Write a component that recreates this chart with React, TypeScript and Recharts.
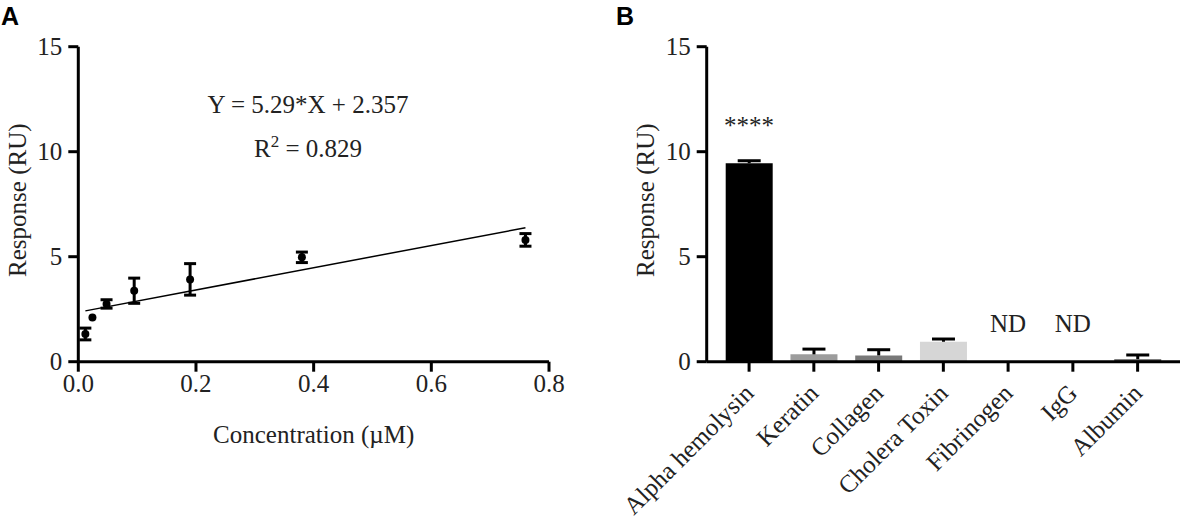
/**
 * Two-panel figure: (A) SPR response vs concentration with linear fit,
 * (B) response of the sensor to a panel of proteins.
 */
import React from 'react';
import { ComposedChart, Scatter, Line, Bar, XAxis, YAxis, ErrorBar, Cell, LabelList, Label } from 'recharts';

const SERIF = '"Liberation Serif", "Times New Roman", serif';
const SANS = '"Liberation Sans", Arial, sans-serif';
const INK = '#000';
const TEXT = '#222';
const FS = 25;

// panel A: dose response
const concentrations = [0.012, 0.024, 0.048, 0.095, 0.19, 0.38, 0.76];
const responses = [1.32, 2.11, 2.75, 3.38, 3.92, 4.97, 5.8];
const responseSem = [0.28, null, 0.2, 0.6, 0.75, 0.25, 0.3];
const fitX = [0.012, 0.76];
const fitY = [2.42, 6.38];
const xTicksA = [0, 0.2, 0.4, 0.6, 0.8];
const yTicks = [0, 5, 10, 15];

// panel B: selectivity
const proteins = ['Alpha hemolysin', 'Keratin', 'Collagen', 'Cholera Toxin', 'Fibrinogen', 'IgG', 'Albumin'];
const proteinResponse = [9.45, 0.35, 0.3, 0.95, 0, 0, 0.12];
const proteinSem = [0.12, 0.25, 0.27, 0.13, 0, 0, 0.2];
const proteinNotes = ['****', '', '', '', 'ND', 'ND', ''];
const barFills = ['#000000', '#9c9c9c', '#787878', '#d6d6d6', '#888888', '#888888', '#555555'];

const points = concentrations.map((x, i) => ({ x, y: responses[i], err: responseSem[i] }));
const fitLine = fitX.map((x, i) => ({ x, y: fitY[i] }));
const bars = proteins.map((name, i) => ({
  name,
  value: proteinResponse[i],
  sem: proteinSem[i],
  note: proteinNotes[i],
}));

const axisStyle = { stroke: INK, strokeWidth: 3 };

const NumTick = (props: any) => {
  const { x, y, payload, orientation, tickFormatter } = props;
  const label = tickFormatter ? tickFormatter(payload.value) : payload.value;
  if (orientation === 'left') {
    return (
      <text x={x} y={y} textAnchor="end" dominantBaseline="central" fontFamily={SERIF} fontSize={FS} fill={TEXT}>
        {label}
      </text>
    );
  }
  return (
    <text x={x} y={y + 18} textAnchor="middle" fontFamily={SERIF} fontSize={FS} fill={TEXT}>
      {label}
    </text>
  );
};

const VertLabel = (props: any) => {
  const vb = props.viewBox || {};
  const cx = vb.x - 1;
  const cy = vb.y + vb.height / 2 - 4;
  return (
    <text
      transform={`translate(${cx},${cy}) rotate(-90)`}
      textAnchor="middle"
      dominantBaseline="central"
      fontFamily={SERIF}
      fontSize={FS}
      fill={TEXT}
    >
      Response (RU)
    </text>
  );
};

const SlantTick = (props: any) => {
  const { x, y, payload } = props;
  return (
    <text
      transform={`translate(${x + 6},${y + 21}) rotate(-45)`}
      textAnchor="end"
      fontFamily={SERIF}
      fontSize={FS}
      fill={TEXT}
    >
      {payload.value}
    </text>
  );
};

const Dot = (p: any) => <circle cx={p.cx} cy={p.cy} r={4} fill={INK} />;
const Hidden = () => null;

// upper-only whisker, drawn on a stacked segment that spans value..value+sem
const Whisker = (p: any) => {
  const { x, y, width, height } = p;
  if (!height || height <= 0) return null;
  const cx = x + width / 2;
  return (
    <g stroke={INK} strokeWidth={3}>
      <line x1={cx} x2={cx} y1={y + height} y2={y} />
      <line x1={cx - 11.5} x2={cx + 11.5} y1={y} y2={y} />
    </g>
  );
};

export default function App() {
  return (
    <div style={{ position: 'absolute', left: 0, top: 0, width: 1182, height: 523, background: '#fff', fontFamily: SERIF }}>
      <div style={{ position: 'absolute', left: 0, top: 0 }}>
        <ComposedChart width={600} height={523} margin={{ top: 46.7, right: 51, left: 18.3, bottom: 81.3 }} style={{ fontFamily: SERIF }}>
          <XAxis
            type="number"
            dataKey="x"
            domain={[0, 0.8]}
            ticks={xTicksA}
            tickFormatter={(v: number) => v.toFixed(1)}
            height={80}
            axisLine={axisStyle}
            tickLine={axisStyle}
            tickSize={10}
            tickMargin={2}
            tick={<NumTick />}
            interval={0}
          >
            <Label value="Concentration (µM)" position="insideBottom" offset={-1} fontFamily={SERIF} fontSize={FS} fill={TEXT} />
          </XAxis>
          <YAxis
            type="number"
            domain={[0, 15]}
            ticks={yTicks}
            width={60}
            axisLine={axisStyle}
            tickLine={axisStyle}
            tickSize={10}
            tickMargin={6}
            tick={<NumTick />}
            interval={0}
          >
            <Label content={VertLabel} />
          </YAxis>
          <Line data={fitLine} dataKey="y" stroke={INK} strokeWidth={1.5} dot={false} isAnimationActive={false} />
          <Scatter data={points} dataKey="y" shape={Dot} isAnimationActive={false}>
            <ErrorBar dataKey="err" direction="y" width={6} stroke={INK} strokeWidth={3} />
          </Scatter>
        </ComposedChart>
      </div>
      <div style={{ position: 'absolute', left: 600, top: 0 }}>
        <ComposedChart width={582} height={523} data={bars} margin={{ top: 46.7, right: 2, left: 46.7, bottom: 81.3 }} style={{ fontFamily: SERIF }}>
          <XAxis
            dataKey="name"
            type="category"
            height={80}
            padding={{ left: 10, right: 10 }}
            axisLine={axisStyle}
            tickLine={axisStyle}
            tickSize={10}
            tick={<SlantTick />}
            interval={0}
          />
          <YAxis
            type="number"
            domain={[0, 15]}
            ticks={yTicks}
            width={60}
            axisLine={axisStyle}
            tickLine={axisStyle}
            tickSize={10}
            tickMargin={6}
            tick={<NumTick />}
            interval={0}
          >
            <Label content={VertLabel} />
          </YAxis>
          <Bar dataKey="value" stackId="s" barSize={47} isAnimationActive={false}>
            {bars.map((b, i) => (
              <Cell key={b.name} fill={barFills[i]} />
            ))}
          </Bar>
          <Bar dataKey="sem" stackId="s" barSize={47} shape={Whisker} isAnimationActive={false} />
          <Scatter dataKey="value" shape={Hidden} isAnimationActive={false}>
            <LabelList dataKey="note" position="top" offset={25} fontFamily={SERIF} fontSize={FS} fill={TEXT} />
          </Scatter>
        </ComposedChart>
      </div>
      <svg width={1182} height={523} style={{ position: 'absolute', left: 0, top: 0, pointerEvents: 'none' }}>
        <text x={1} y={25} fontFamily={SANS} fontWeight="bold" fontSize={25} fill={INK}>A</text>
        <text x={616} y={25} fontFamily={SANS} fontWeight="bold" fontSize={25} fill={INK}>B</text>
        <text x={308} y={113} textAnchor="middle" fontFamily={SERIF} fontSize={FS} fill={TEXT}>
          Y = 5.29*X + 2.357
        </text>
        <text x={308} y={157} textAnchor="middle" fontFamily={SERIF} fontSize={FS} fill={TEXT}>
          R<tspan dy={-10} fontSize={17}>2</tspan>
          <tspan dy={10}> = 0.829</tspan>
        </text>
      </svg>
    </div>
  );
}
